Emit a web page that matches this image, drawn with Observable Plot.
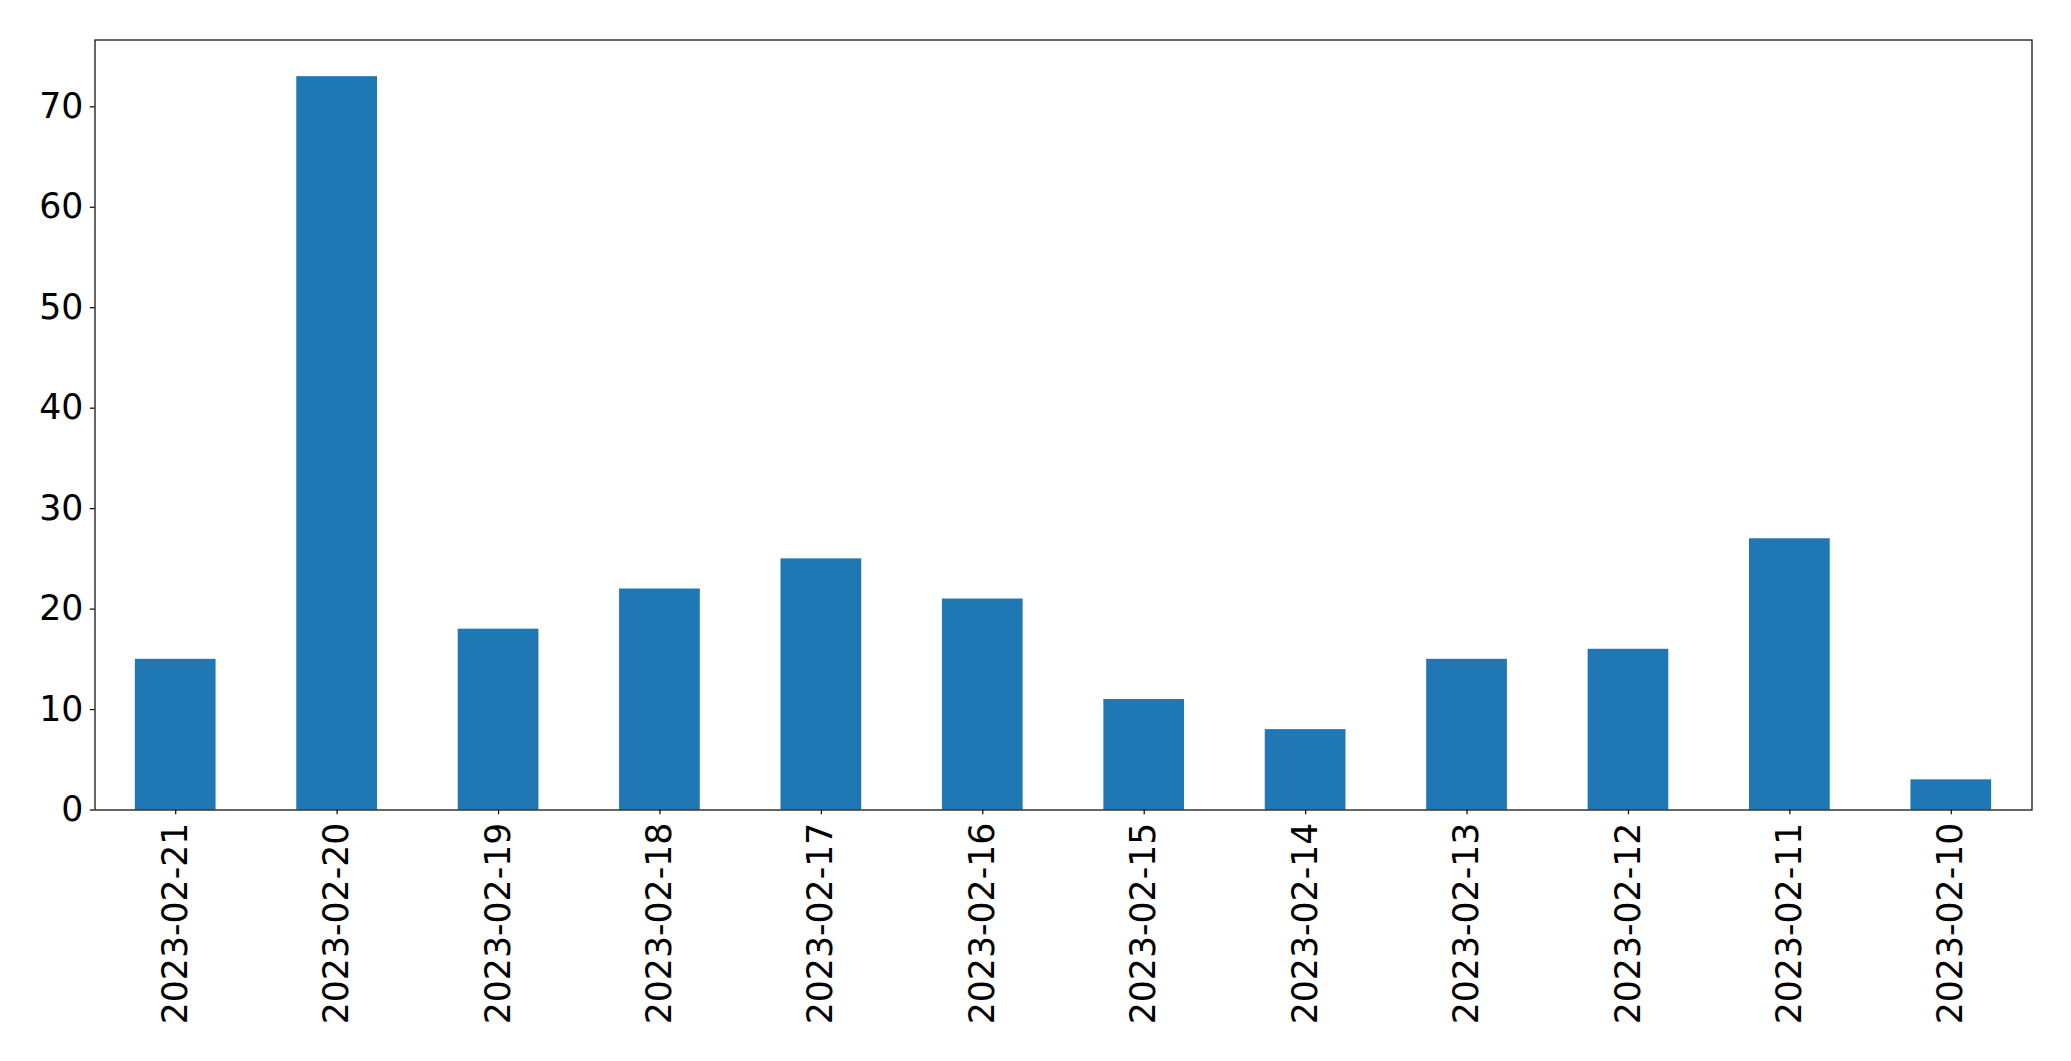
<!DOCTYPE html>
<html>
<head>
<meta charset="utf-8">
<script src="https://cdn.jsdelivr.net/npm/d3@7"></script>
<script src="https://cdn.jsdelivr.net/npm/@observablehq/plot@0.6"></script>
<style>
  html, body { margin: 0; padding: 0; background: #fff; }
  #chart svg { display: block; }
</style>
</head>
<body>
<div id="chart"></div>
<script>
const dates = ["2023-02-21","2023-02-20","2023-02-19","2023-02-18","2023-02-17","2023-02-16","2023-02-15","2023-02-14","2023-02-13","2023-02-12","2023-02-11","2023-02-10"];
const counts = [15, 73, 18, 22, 25, 21, 11, 8, 15, 16, 27, 3];
const yTicks = [0, 10, 20, 30, 40, 50, 60, 70];

const data = dates.map((d, i) => ({date: d, count: counts[i]}));

const chart = Plot.plot({
  width: 2071,
  height: 1061,
  marginLeft: 94.5,
  marginRight: 39.5,
  marginTop: 39.5,
  marginBottom: 251.5,
  style: {fontFamily: "'DejaVu Sans', sans-serif", background: "#fff", color: "#000"},
  x: {type: "band", domain: dates, paddingInner: 0.5, paddingOuter: 0.25, align: 0.5, round: false, label: null},
  y: {domain: [0, 76.65], label: null},
  marks: [
    Plot.barY(data, {x: "date", y: "count", fill: "#1f77b4"}),
    Plot.axisY({ticks: yTicks, tickSize: 4.7, tickPadding: 7, fontSize: 34.7, label: null, stroke: "#000", strokeWidth: 1.2, strokeOpacity: 1}),
    Plot.axisX({tickRotate: -90, tickSize: 4.7, tickPadding: 8, fontSize: 34.7, label: null, stroke: "#000", strokeWidth: 1.2, strokeOpacity: 1}),
    Plot.frame({stroke: "#000", strokeWidth: 1.2, strokeOpacity: 1})
  ]
});
document.getElementById("chart").appendChild(chart);
</script>
</body>
</html>
